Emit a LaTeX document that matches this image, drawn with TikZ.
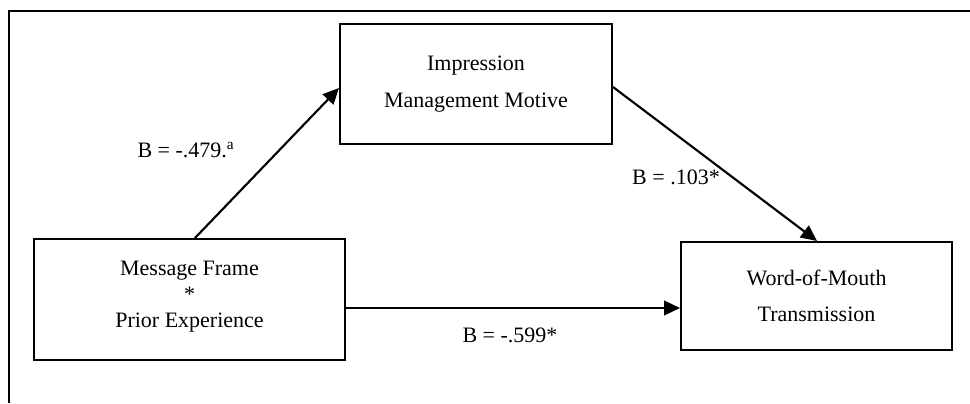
\documentclass[tikz,border=0pt]{standalone}
\usepackage{fontspec}
\setmainfont{Liberation Serif}
\usetikzlibrary{arrows.meta,calc}
\begin{document}
\begin{tikzpicture}[x=0.75pt,y=-0.75pt,
  box/.style={draw,line width=1.5pt,rectangle,align=center,inner sep=0pt,font=\fontsize{16.5}{19.5}\selectfont},
  arr/.style={line width=1.6pt,-{Triangle[length=12pt,width=11pt]}},
  lab/.style={inner sep=0pt,font=\fontsize{16.5}{19.5}\selectfont}]
\useasboundingbox (0,0) rectangle (970,403);
\draw[line width=1.5pt] (9,403) -- (9,11) -- (970,11);
\node[box,minimum width=311*0.75pt,minimum height=121*0.75pt] (ml) at (189.5,299.5) {Message Frame\\*\\Prior Experience\\[-11pt]};
\node[box,minimum width=272*0.75pt,minimum height=120*0.75pt] (im) at (476,84) {Impression\\[8pt]Management Motive};
\node[box,minimum width=271*0.75pt,minimum height=108*0.75pt] (wm) at (816.5,296) {Word-of-Mouth\\[7.5pt]Transmission};
\draw[arr] (ml.north -| 195,0) -- (im.west |- 0,88);
\draw[arr] (im.east |- 0,87) -- (wm.north -| 817,0);
\draw[arr] (ml.east |- 0,308) -- (wm.west |- 0,308);
\node[lab] (l1) at (186,150) {B = -.479.\textsuperscript{a}};
\node[lab] (l2) at (676,177) {B = .103*};
\node[lab] (l3) at (510,335) {B = -.599*};
\end{tikzpicture}
\end{document}
